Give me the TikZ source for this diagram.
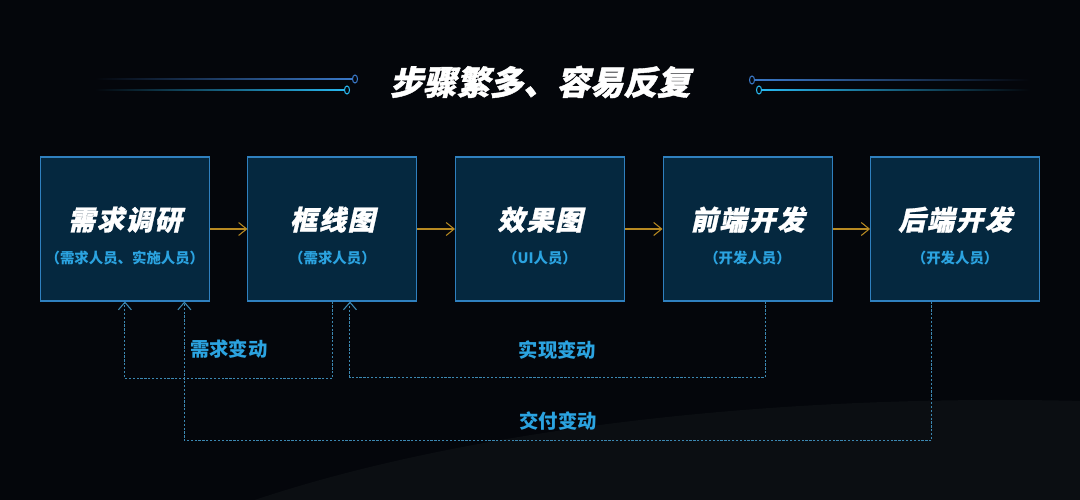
\documentclass[tikz,border=0pt]{standalone}
\usepackage{fontspec}
\newfontfamily\cjk{Noto Sans CJK SC}
\newfontfamily\cjkheavy{Noto Sans CJK SC}[FakeSlant=0.22,FakeBold=1.2]
\newfontfamily\cjkwide{Noto Sans CJK SC}[FakeSlant=0.22,FakeBold=1,LetterSpace=6]
\usepackage{tikz}
\usetikzlibrary{matrix,positioning,arrows.meta,calc}

\definecolor{bg}{HTML}{04060B}
\definecolor{stagefill}{HTML}{05283F}
\definecolor{stageline}{HTML}{2F80BF}
\definecolor{rolecol}{HTML}{2BA3E0}
\definecolor{flowcol}{HTML}{B88A22}
\definecolor{changecol}{HTML}{3C88B2}
\definecolor{ringblue}{HTML}{3A78C8}
\definecolor{ringcyan}{HTML}{28B8F0}
\definecolor{hzcore}{HTML}{0B0E12}
\definecolor{hzmid}{HTML}{181D22}
\definecolor{hzrim}{HTML}{30373D}

\pgfdeclareradialshading{horizon}{\pgfpoint{0bp}{0bp}}{%
  color(0bp)=(hzcore); color(40bp)=(hzcore); color(47bp)=(hzmid);
  color(49.6bp)=(hzrim); color(50bp)=(bg)}

\tikzset{
  stage/.style={draw=stageline, fill=stagefill, line width=0.6pt,
                minimum width=3.38cm, minimum height=2.88cm, inner sep=0pt},
  stagename/.style={anchor=base, text=white, inner sep=0pt,
                font=\cjkwide\bfseries\fontsize{15.5}{18}\selectfont},
  stagerole/.style={anchor=base, text=rolecol, inner sep=0pt,
                font=\cjk\bfseries\fontsize{8.2}{10}\selectfont},
  flow/.style={draw=flowcol, line width=0.6pt,
               -{Straight Barb[length=1.6mm, width=2.6mm]}},
  change/.style={draw=changecol, line width=0.6pt,
                 dash pattern=on 1.3pt off 0.9pt,
                 -{Straight Barb[length=1.5mm, width=2.6mm]}},
  changelabel/.style={text=rolecol, font=\cjk\bfseries\fontsize{11}{13}\selectfont},
}

\begin{document}
\begin{tikzpicture}
    % background and horizon glow -----------------------------------
    \useasboundingbox (0,0) rectangle (21.6,10);
    \fill[bg] (0,0) rectangle (21.6,10);
    \begin{scope}
        \clip (0,0) rectangle (21.6,10);
        \shade[shading=horizon] (20,-4) ellipse [x radius=20, y radius=6];
    \end{scope}

    % title with side lines ------------------------------------------
    \node[text=white, font=\cjkheavy\bfseries\fontsize{19}{22}\selectfont]
        (title) at (10.8,8.36) {步骤繁多、容易反复};
    \shade[left color=bg, right color=ringblue] (1.9,8.41) rectangle (7.04,8.43);
    \shade[left color=bg, right color=ringcyan] (1.9,8.19) rectangle (6.89,8.21);
    \shade[left color=ringblue, right color=bg] (15.1,8.39) rectangle (20.6,8.41);
    \shade[left color=ringcyan, right color=bg] (15.24,8.19) rectangle (20.6,8.21);
    \draw[ringblue, line width=0.6pt] (7.1,8.42) ellipse [x radius=0.05, y radius=0.08];
    \draw[ringcyan, line width=0.6pt] (6.94,8.2) ellipse [x radius=0.05, y radius=0.08];
    \draw[ringblue, line width=0.6pt] (15.04,8.4) ellipse [x radius=0.05, y radius=0.08];
    \draw[ringcyan, line width=0.6pt] (15.18,8.2) ellipse [x radius=0.05, y radius=0.08];

    % stages ---------------------------------------------------------
    \matrix [matrix of nodes, nodes in empty cells, nodes={stage},
             column sep=0.75cm, inner sep=0pt] (s) at (10.8,5.42)
    {
     & & & & \\
    };
    \node[stagename] (s1-name) at ([yshift=-0.02cm]s-1-1.center) {需求调研};
    \node[stagerole] (s1-role) at ([yshift=-0.69cm]s-1-1.center) {（需求人员、实施人员）};
    \node[stagename] (s2-name) at ([yshift=-0.02cm]s-1-2.center) {框线图};
    \node[stagerole] (s2-role) at ([yshift=-0.69cm]s-1-2.center) {（需求人员）};
    \node[stagename] (s3-name) at ([yshift=-0.02cm]s-1-3.center) {效果图};
    \node[stagerole] (s3-role) at ([yshift=-0.69cm]s-1-3.center) {（UI人员）};
    \node[stagename] (s4-name) at ([yshift=-0.02cm]s-1-4.center) {前端开发};
    \node[stagerole] (s4-role) at ([yshift=-0.69cm]s-1-4.center) {（开发人员）};
    \node[stagename] (s5-name) at ([yshift=-0.02cm]s-1-5.center) {后端开发};
    \node[stagerole] (s5-role) at ([yshift=-0.69cm]s-1-5.center) {（开发人员）};

    \draw[flow] (s-1-1) -- (s-1-2);
    \draw[flow] (s-1-2) -- (s-1-3);
    \draw[flow] (s-1-3) -- (s-1-4);
    \draw[flow] (s-1-4) -- (s-1-5);

    % loops back -----------------------------------------------------
    \coordinate (req-from) at ([yshift=-1.54cm]s-1-2.south);
    \draw[change] (s-1-2.south) -- (req-from) -|
        node[pos=0.25, yshift=0.58cm, changelabel] (req-lbl) {需求变动} (s-1-1.south);
    \coordinate (impl-top) at ([xshift=0.35cm]s-1-4.south);
    \coordinate (impl-to) at ([xshift=0.35cm]s-1-2.south);
    \coordinate (impl-from) at ([yshift=-1.52cm]impl-top);
    \draw[change] (impl-top) -- (impl-from) -|
        node[pos=0.25, yshift=0.56cm, changelabel] (impl-lbl) {实现变动} (impl-to);
    \coordinate (dlv-top) at ([xshift=-0.47cm]s-1-5.south);
    \coordinate (dlv-to) at ([xshift=1.19cm]s-1-1.south);
    \coordinate (dlv-from) at ([yshift=-2.78cm]dlv-top);
    \draw[change] (dlv-top) -- (dlv-from) -|
        node[pos=0.25, yshift=0.38cm, changelabel] (dlv-lbl) {交付变动} (dlv-to);
\end{tikzpicture}
\end{document}
